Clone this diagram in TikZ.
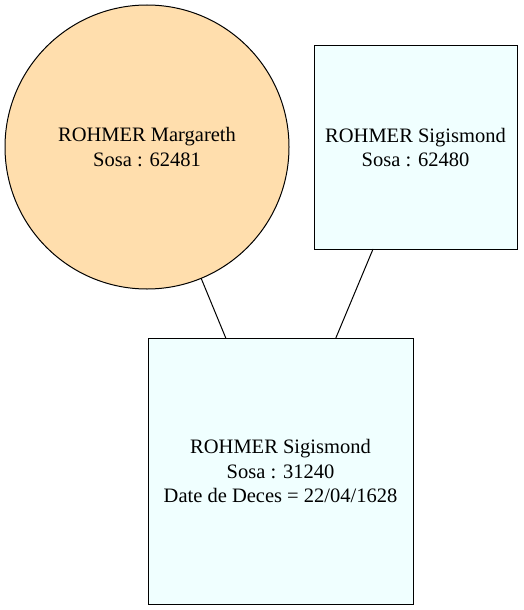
\documentclass[tikz,border=0pt]{standalone}
\usepackage{fontspec}
\setmainfont{Liberation Serif}
\definecolor{navajo}{HTML}{FFDEAD}
\definecolor{azurec}{HTML}{F0FFFF}
\begin{document}
\begin{tikzpicture}[x=1pt,y=1pt,
  person/.style={draw=black,line width=1pt,align=center,inner sep=0pt,outer sep=0pt,
    font=\fontsize{20.5}{24.5}\selectfont},
  circ/.style={person,circle,fill=navajo,minimum size=284pt},
  sq/.style={person,rectangle,fill=azurec},
  link/.style={draw=black,line width=1pt}]
\useasboundingbox (0,0) rectangle (523,-610);
\node[circ] (m) at (147,-147) {ROHMER Margareth\\Sosa : 62481};
\node[sq,minimum width=203pt,minimum height=203pt] (s) at (415.5,-147.5) {ROHMER Sigismond\\Sosa : 62480};
\node[sq,minimum width=265pt,minimum height=266pt] (c) at (280.5,-471) {ROHMER Sigismond\\Sosa : 31240\\Date de Deces = 22/04/1628};
\draw[link] (m) -- (c);
\draw[link] (s) -- (c);
\end{tikzpicture}
\end{document}
